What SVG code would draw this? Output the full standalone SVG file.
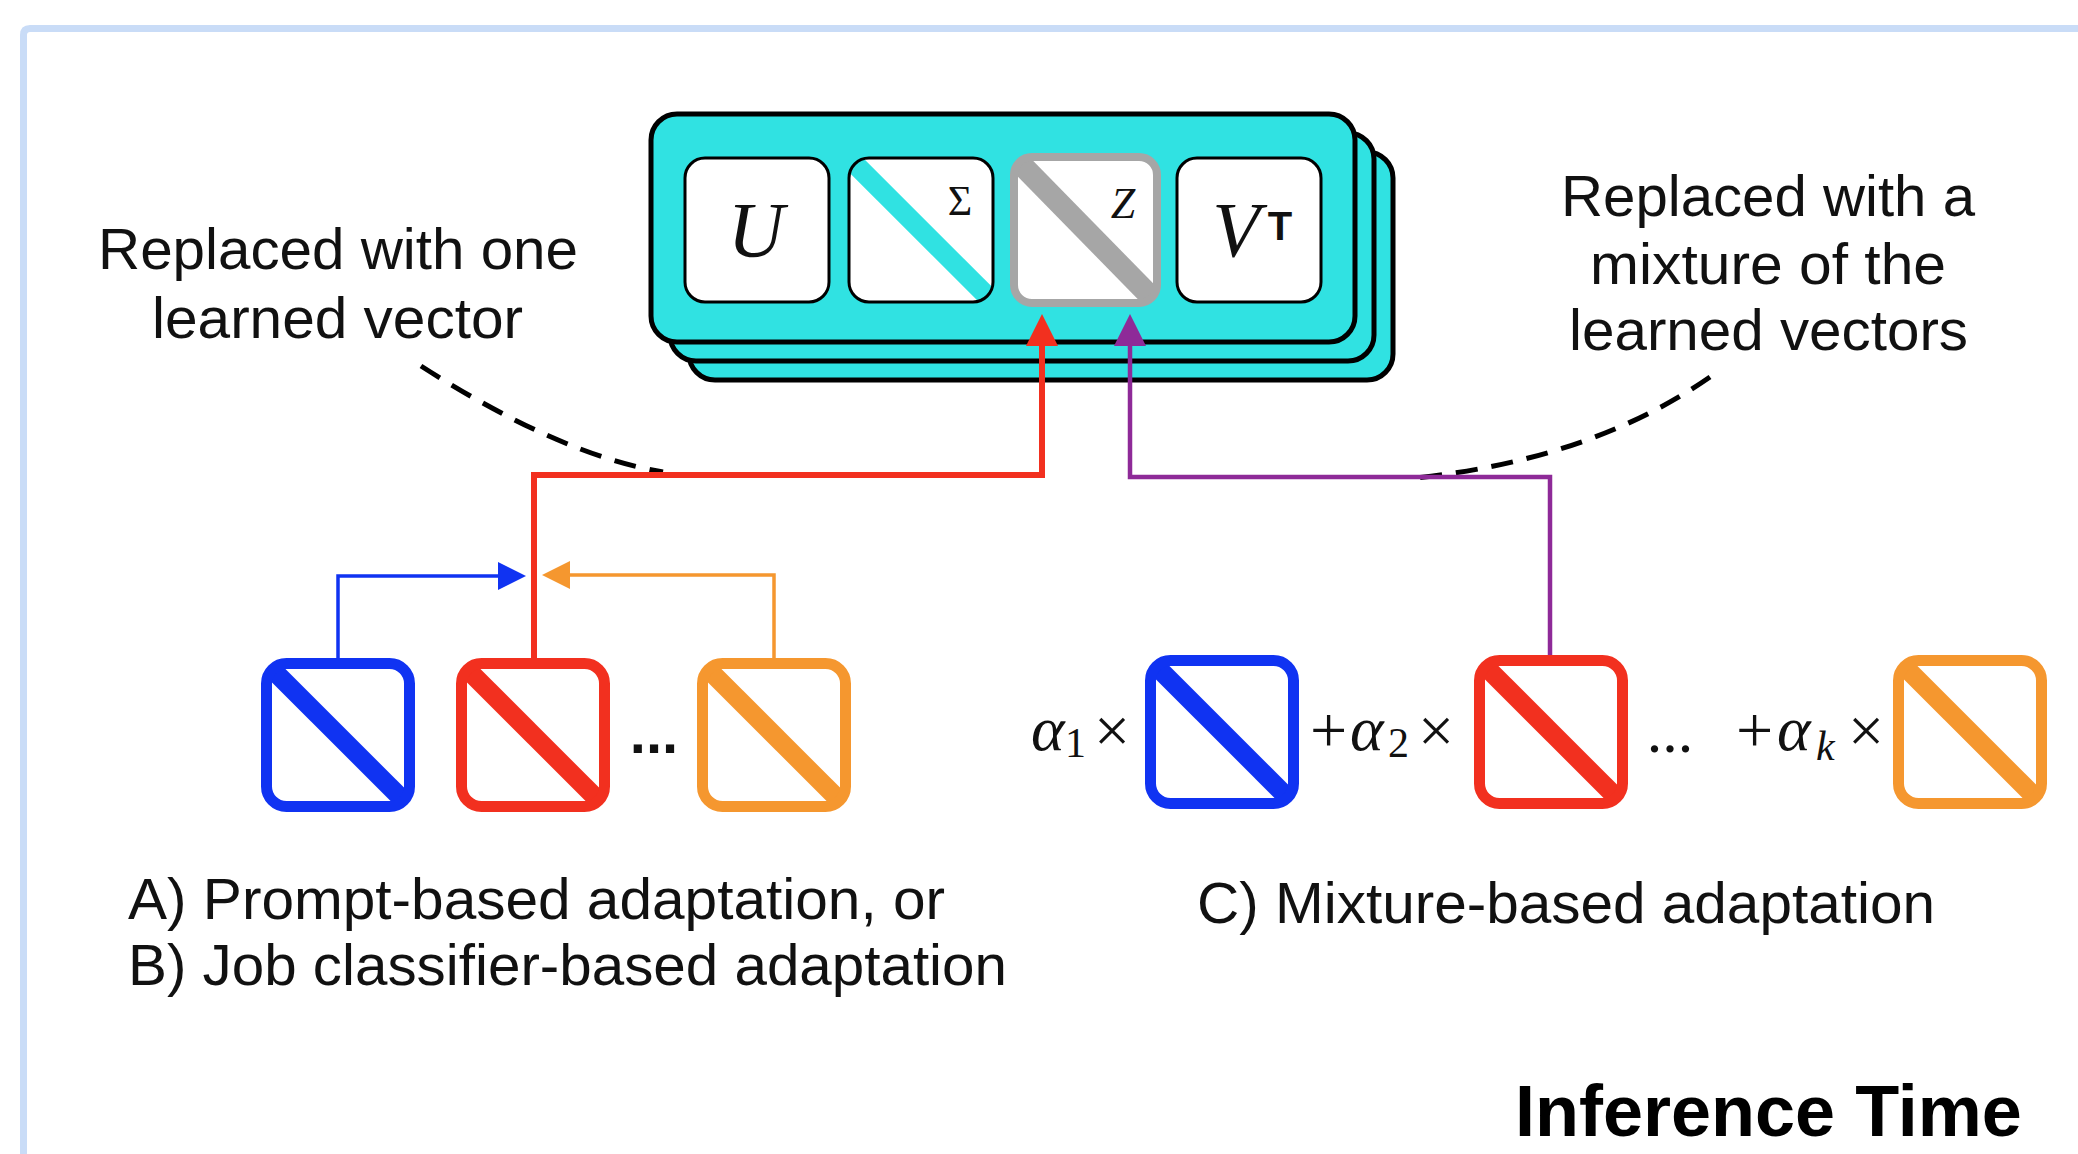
<svg xmlns="http://www.w3.org/2000/svg" xmlns:xlink="http://www.w3.org/1999/xlink" width="2078" height="1154" viewBox="0 0 2078 1154">
<style>
.lbl{font-family:"Liberation Sans",Arial,sans-serif;font-size:58px;fill:#111}
.title{font-family:"Liberation Sans",Arial,sans-serif;font-size:72px;font-weight:bold;fill:#000}
.math{font-family:"Liberation Serif","DejaVu Serif",serif;fill:#111}
.layer{fill:#30E2E2;stroke:#000;stroke-width:5}
.inner{fill:#fff;stroke:#000;stroke-width:3}
.dash{fill:none;stroke:#000;stroke-width:5;stroke-dasharray:22 14}
</style>
<defs>
  <clipPath id="cSig"><rect x="849" y="158" width="144" height="144" rx="20"/></clipPath>
  <clipPath id="cZ"><rect x="1014" y="157" width="143" height="146" rx="18"/></clipPath>
  <clipPath id="cv"><rect x="5.5" y="5.5" width="143" height="143" rx="20"/></clipPath>
  <symbol id="vec" viewBox="0 0 154 154" overflow="visible">
    <rect x="5.5" y="5.5" width="143" height="143" rx="20" fill="#fff"/>
    <line x1="0" y1="0" x2="154" y2="154" stroke="currentColor" stroke-width="19" clip-path="url(#cv)"/>
    <rect x="5.5" y="5.5" width="143" height="143" rx="20" fill="none" stroke="currentColor" stroke-width="11"/>
  </symbol>
  <marker id="aRed" viewBox="0 0 10 10" refX="5" refY="5" markerUnits="userSpaceOnUse" markerWidth="45" markerHeight="32" orient="auto">
    <path d="M0,0 L10,5 L0,10 z" fill="#F2301F"/>
  </marker>
  <marker id="aPur" viewBox="0 0 10 10" refX="5" refY="5" markerUnits="userSpaceOnUse" markerWidth="45" markerHeight="32" orient="auto">
    <path d="M0,0 L10,5 L0,10 z" fill="#8E2A98"/>
  </marker>
  <marker id="aBlue" viewBox="0 0 10 10" refX="5" refY="5" markerUnits="userSpaceOnUse" markerWidth="36" markerHeight="28" orient="auto">
    <path d="M0,0 L10,5 L0,10 z" fill="#1033F2"/>
  </marker>
  <marker id="aOr" viewBox="0 0 10 10" refX="5" refY="5" markerUnits="userSpaceOnUse" markerWidth="36" markerHeight="28" orient="auto">
    <path d="M0,0 L10,5 L0,10 z" fill="#F5972F"/>
  </marker>
</defs>

<rect width="2078" height="1154" fill="#fff"/>
<path d="M23.5 1160 V35 Q23.5 28.5 30 28.5 H2090" fill="none" stroke="#C9DCF7" stroke-width="7"/>

<g id="svd-block">
  <rect class="layer" x="689" y="152" width="704" height="228" rx="26"/>
  <rect class="layer" x="670" y="133" width="704" height="228" rx="26"/>
  <rect class="layer" x="651" y="114" width="704" height="228" rx="26"/>
  <g id="U">
    <rect class="inner" x="685" y="158" width="144" height="144" rx="20"/>
    <text class="math" x="756" y="256" font-size="78" font-style="italic" text-anchor="middle">U</text>
  </g>
  <g id="Sigma">
    <rect x="849" y="158" width="144" height="144" rx="20" fill="#fff"/>
    <line x1="849" y1="158" x2="993" y2="302" stroke="#30E2E2" stroke-width="20" clip-path="url(#cSig)"/>
    <rect x="849" y="158" width="144" height="144" rx="20" fill="none" stroke="#000" stroke-width="3"/>
    <text class="math" x="960" y="215" font-size="42" text-anchor="middle">Σ</text>
  </g>
  <g id="Z">
    <rect x="1014" y="157" width="143" height="146" rx="18" fill="#fff"/>
    <line x1="1014" y1="157" x2="1157" y2="303" stroke="#A6A6A6" stroke-width="22" clip-path="url(#cZ)"/>
    <rect x="1014" y="157" width="143" height="146" rx="18" fill="none" stroke="#A6A6A6" stroke-width="8"/>
    <text class="math" x="1123" y="218" font-size="44" font-style="italic" text-anchor="middle">Z</text>
  </g>
  <g id="VT">
    <rect class="inner" x="1177" y="158" width="144" height="144" rx="20"/>
    <text class="math" x="1236" y="256" font-size="78" font-style="italic" text-anchor="middle">V</text>
    <text x="1280" y="240" font-family="Liberation Sans,Arial,sans-serif" font-weight="bold" font-size="40" fill="#111" text-anchor="middle">T</text>
  </g>
</g>

<g id="label-one">
  <text class="lbl" x="98" y="269" textLength="480" lengthAdjust="spacingAndGlyphs">Replaced with one</text>
  <text class="lbl" x="152" y="338" textLength="371" lengthAdjust="spacingAndGlyphs">learned vector</text>
</g>
<g id="label-mix">
  <text class="lbl" x="1561" y="216" textLength="414" lengthAdjust="spacingAndGlyphs">Replaced with a</text>
  <text class="lbl" x="1590" y="284" textLength="356" lengthAdjust="spacingAndGlyphs">mixture of the</text>
  <text class="lbl" x="1569" y="350" textLength="399" lengthAdjust="spacingAndGlyphs">learned vectors</text>
</g>

<g id="connectors">
  <path class="dash" d="M421 366 Q560 455 663 472"/>
  <path class="dash" d="M1710 377 Q1590 460 1415 478"/>
  <path d="M338 658 V576 H512" fill="none" stroke="#1033F2" stroke-width="3.5" marker-end="url(#aBlue)"/>
  <path d="M774 658 V575 H556" fill="none" stroke="#F5972F" stroke-width="3.5" marker-end="url(#aOr)"/>
  <path d="M534 660 V475 H1042 V330" fill="none" stroke="#F2301F" stroke-width="6" stroke-linejoin="miter" marker-end="url(#aRed)"/>
  <path d="M1550 658 V477 H1130 V330" fill="none" stroke="#8E2A98" stroke-width="4.5" marker-end="url(#aPur)"/>
</g>

<g id="groupA">
  <g id="a-blue"><use href="#vec" xlink:href="#vec" x="261" y="658" width="154" height="154" color="#1033F2"/></g>
  <g id="a-red"><use href="#vec" xlink:href="#vec" x="456" y="658" width="154" height="154" color="#F2301F"/></g>
  <text x="654" y="753" font-family="Liberation Sans,Arial,sans-serif" font-weight="bold" font-size="58" fill="#111" text-anchor="middle">...</text>
  <g id="a-orange"><use href="#vec" xlink:href="#vec" x="697" y="658" width="154" height="154" color="#F5972F"/></g>
</g>

<g id="groupC">
  <text class="math" y="750"><tspan x="1031" font-size="64" font-style="italic">α</tspan><tspan x="1065" y="757" font-size="42">1</tspan><tspan x="1094" y="752" font-size="64">×</tspan></text>
  <g id="c-blue"><use href="#vec" xlink:href="#vec" x="1145" y="655" width="154" height="154" color="#1033F2"/></g>
  <text class="math" y="752"><tspan x="1310" font-size="66">+</tspan><tspan x="1350" y="750" font-size="64" font-style="italic">α</tspan><tspan x="1388" y="757" font-size="42">2</tspan><tspan x="1418" y="752" font-size="64">×</tspan></text>
  <g id="c-red"><use href="#vec" xlink:href="#vec" x="1474" y="655" width="154" height="154" color="#F2301F"/></g>
  <text class="math" x="1670" y="752" font-size="62" text-anchor="middle">...</text>
  <text class="math" y="752"><tspan x="1736" font-size="66">+</tspan><tspan x="1777" y="750" font-size="64" font-style="italic">α</tspan><tspan x="1816" y="760" font-size="42" font-style="italic">k</tspan><tspan x="1848" y="752" font-size="64">×</tspan></text>
  <g id="c-orange"><use href="#vec" xlink:href="#vec" x="1893" y="655" width="154" height="154" color="#F5972F"/></g>
</g>

<g id="captions">
  <text class="lbl" x="128" y="919" textLength="817" lengthAdjust="spacingAndGlyphs">A) Prompt-based adaptation, or</text>
  <text class="lbl" x="128" y="985" textLength="879" lengthAdjust="spacingAndGlyphs">B) Job classifier-based adaptation</text>
  <text class="lbl" x="1197" y="923" textLength="738" lengthAdjust="spacingAndGlyphs">C) Mixture-based adaptation</text>
  <text class="title" x="1515" y="1136">Inference Time</text>
</g>
</svg>
